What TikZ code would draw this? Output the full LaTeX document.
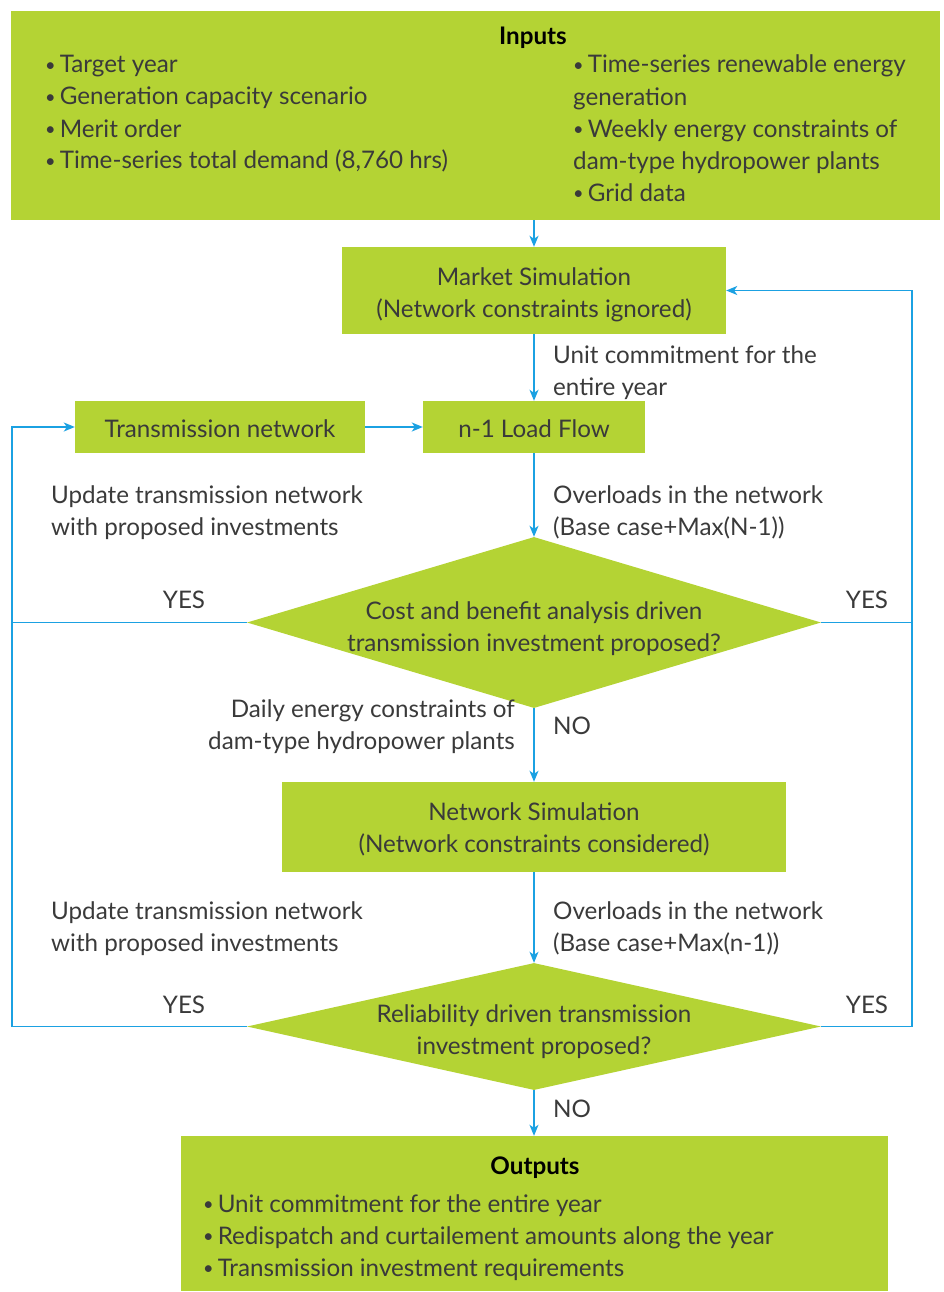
\documentclass[tikz,border=0pt]{standalone}
\usepackage{fontspec}
\setmainfont{Lato}
\usetikzlibrary{shapes.geometric,arrows.meta,positioning}
\definecolor{boxgreen}{HTML}{B4D334}
\definecolor{flowblue}{HTML}{1BA1E2}
\definecolor{inkgray}{HTML}{3A3A3A}
\tikzset{every picture/.style={/utils/exec={\fontsize{24.2}{32}\selectfont}}}
\newcommand{\smallbullet}{\raisebox{0.08em}{\scalebox{0.75}{\textbullet}}\,}

\begin{document}
\begin{tikzpicture}[x=1pt, y=-1pt,
  box/.style={fill=boxgreen, text=inkgray, align=center, inner sep=0pt},
  decision/.style={diamond, fill=boxgreen, inner sep=0pt, minimum width=574pt},
  note/.style={text=inkgray, inner sep=0pt},
  flow/.style={draw=flowblue, line width=1.4pt, -{Stealth[length=11pt, width=9pt, inset=3pt]}},
  rail/.style={draw=flowblue, line width=1.4pt}]
  \useasboundingbox (0,0) rectangle (943,1292);

  % boxes
  \node [box, minimum width=929pt, minimum height=209pt] (inputs) at (475.5,115.5) {};
  \node [box, minimum width=384pt, minimum height=87pt] (market) at (534,290.5) {};
  \node [box, minimum width=222pt, minimum height=52pt] (loadflow) at (534,427) {};
  \node [box, minimum width=290pt, minimum height=52pt] (transnet) at (220,427) {};
  \node [decision, minimum height=171pt] (costdec) at (534,622.5) {};
  \node [box, minimum width=504pt, minimum height=90pt] (netsim) at (534,827) {};
  \node [decision, minimum height=127pt] (reldec) at (534,1026.5) {};
  \node [box, minimum width=707pt, minimum height=155pt] (outputs) at (534.5,1213.5) {};

  % texts inside (anchored at the last baseline)
  \node [note, text=black, anchor=base] (inputshead) at (533,45) {\bfseries Inputs};
  \node [note, align=left, anchor=base west] (inputsleft) at (45,169)
    {\smallbullet Target year\\\smallbullet Generation capacity scenario\\\smallbullet Merit order\\\smallbullet Time-series total demand (8,760 hrs)};
  \node [note, align=left, anchor=base west] (inputsright) at (573,201)
    {\smallbullet Time-series renewable energy\\generation\\\smallbullet Weekly energy constraints of\\dam-type hydropower plants\\\smallbullet Grid data};
  \node [note, align=center, anchor=base] (markettext) at (534,317) {Market Simulation\\(Network constraints ignored)};
  \node [note, anchor=base] (loadflowtext) at (534,437) {n-1 Load Flow};
  \node [note, anchor=base] (transnettext) at (220,437) {Transmission network};
  \node [note, align=center, anchor=base] (costtext) at (534,651) {Cost and benefit analysis driven\\transmission investment proposed?};
  \node [note, align=center, anchor=base] (netsimtext) at (534,852) {Network Simulation\\(Network constraints considered)};
  \node [note, align=center, anchor=base] (reltext) at (534,1054) {Reliability driven transmission\\investment proposed?};
  \node [note, text=black, anchor=base] (outputshead) at (535,1174) {\bfseries Outputs};
  \node [note, align=left, anchor=base west] (outputslist) at (203,1276)
    {\smallbullet Unit commitment for the entire year\\\smallbullet Redispatch and curtailement amounts along the year\\\smallbullet Transmission investment requirements};

  % labels
  \node [note, align=left, anchor=base west] (ucnote) at (553,395) {Unit commitment for the\\entire year};
  \node [note, align=left, anchor=base west] (overnote) at (553,535) {Overloads in the network\\(Base case+Max(N-1))};
  \node [note, align=left, anchor=base west] (updnote) at (51,535) {Update transmission network\\with proposed investments};
  \node [note, align=right, anchor=base east] (dailynote) at (515,749) {Daily energy constraints of\\dam-type hydropower plants};
  \node [note, align=left, anchor=base west] (overnotetwo) at (553,951) {Overloads in the network\\(Base case+Max(n-1))};
  \node [note, align=left, anchor=base west] (updnotetwo) at (51,951) {Update transmission network\\with proposed investments};
  \node [note, anchor=base] (yesleft) at (184,608) {YES};
  \node [note, anchor=base] (yesright) at (867,608) {YES};
  \node [note, anchor=base] (yeslefttwo) at (184,1013) {YES};
  \node [note, anchor=base] (yesrighttwo) at (867,1013) {YES};
  \node [note, anchor=base] (nocost) at (572,734) {NO};
  \node [note, anchor=base] (norel) at (572,1117) {NO};

  % connectors
  \coordinate (leftrail) at (12,0);
  \coordinate (rightrail) at (912,0);
  \draw [flow] (market.north |- inputs.south) -- (market.north);
  \draw [flow] (market) -- (loadflow);
  \draw [flow] (transnet) -- (loadflow);
  \draw [flow] (loadflow) -- (costdec.north);
  \draw [flow] (costdec.south) -- (netsim.north);
  \draw [flow] (netsim) -- (reldec.north);
  \draw [flow] (reldec.south) -- (outputs.north -| reldec.south);
  \draw [flow] (costdec.west) -- (costdec.west -| leftrail) |- (transnet.west);
  \draw [rail] (reldec.west) -- (reldec.west -| leftrail) -- (costdec.west -| leftrail);
  \draw [flow] (costdec.east) -- (costdec.east -| rightrail) |- (market.east);
  \draw [rail] (reldec.east) -- (reldec.east -| rightrail) -- (costdec.east -| rightrail);
\end{tikzpicture}
\end{document}
